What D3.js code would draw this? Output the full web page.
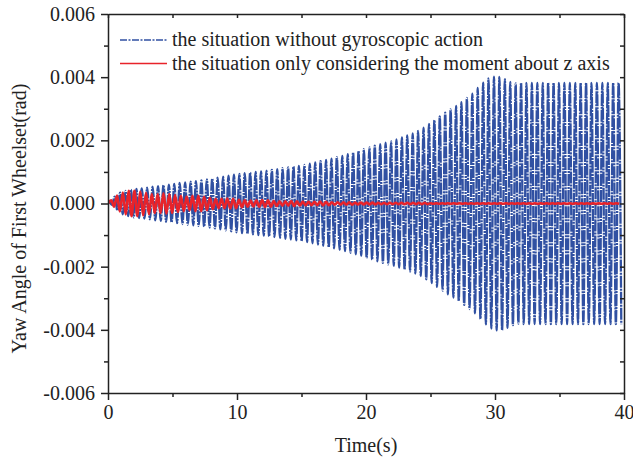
<!DOCTYPE html>
<html>
<head>
<meta charset="utf-8">
<script src="https://cdn.jsdelivr.net/npm/d3@7"></script>
<style>
  body { margin: 0; background: #fff; }
  text { font-family: "Liberation Serif", "Times New Roman", serif; fill: #222; }
</style>
</head>
<body>
<div id="chart"></div>
<script>
// peak amplitude of each oscillation cycle, in 0.001 rad
const blueStart = 0.1, bluePeriod = 0.42;
const blueAmp = [
  0.04, 0.22, 0.34, 0.40, 0.44, 0.46, 0.48, 0.50, 0.53, 0.55,
  0.58, 0.60, 0.62, 0.65, 0.67, 0.69, 0.71, 0.73, 0.76, 0.79,
  0.82, 0.85, 0.88, 0.91, 0.94, 0.96, 0.98, 1.00, 1.02, 1.04,
  1.06, 1.09, 1.12, 1.14, 1.17, 1.19, 1.22, 1.26, 1.30, 1.34,
  1.38, 1.42, 1.47, 1.51, 1.56, 1.61, 1.66, 1.72, 1.78, 1.83,
  1.88, 1.93, 1.97, 2.03, 2.09, 2.16, 2.22, 2.30, 2.40, 2.52,
  2.64, 2.76, 2.88, 2.98, 3.09, 3.21, 3.34, 3.48, 3.66, 3.83,
  3.96, 4.02, 4.01, 3.94, 3.85, 3.80, 3.82, 3.82, 3.82, 3.82,
  3.82, 3.82, 3.82, 3.82, 3.82, 3.82, 3.82, 3.82, 3.82, 3.82,
  3.82, 3.82, 3.82, 3.82, 3.82
];

const redStart = 0.25, redPeriod = 0.45;
const redAmp = [
  0.10, 0.25, 0.35, 0.40, 0.40, 0.38, 0.34, 0.30, 0.30, 0.32,
  0.30, 0.27, 0.24, 0.22, 0.24, 0.24, 0.21, 0.18, 0.15, 0.15,
  0.16, 0.15, 0.12, 0.10, 0.09, 0.10, 0.11, 0.10, 0.08, 0.07,
  0.07, 0.08, 0.07, 0.06, 0.05, 0.05, 0.06, 0.05, 0.04, 0.04,
  0.04, 0.04, 0.03, 0.03, 0.03, 0.03, 0.02, 0.02, 0.02, 0.02,
  0.02, 0.02, 0.02, 0.02, 0.02, 0.01, 0.01, 0.01, 0.01, 0.01,
  0.01, 0.01, 0.01, 0.01, 0.01, 0.01, 0.01, 0.01, 0.01, 0.01,
  0.01, 0.01, 0.01, 0.01, 0.01, 0.01, 0.01, 0.01, 0.01, 0.01,
  0.01, 0.01, 0.01, 0.01, 0.01, 0.01, 0.01, 0.01
];

const xMajor = [0, 10, 20, 30, 40];
const xMinor = [5, 15, 25, 35];
const yMajor = [-0.006, -0.004, -0.002, 0, 0.002, 0.004, 0.006];
const yMinor = [-0.005, -0.003, -0.001, 0.001, 0.003, 0.005];
const seriesNames = ["the situation without gyroscopic action",
                     "the situation only considering the moment about z axis"];

function peaks(start, period, amp) {
  let pts = [{ t: 0, v: 0 }];
  amp.forEach((a, i) => {
    let t = start + i * period;
    pts.push({ t: t, v: a / 1000 });
    pts.push({ t: t + period / 2, v: -a / 1000 });
  });
  return pts;
}

let width = 633, height = 460,
  margin = ({ top: 14, right: 9, bottom: 67, left: 108 });

let x = d3.scaleLinear().domain([0, 40]).range([margin.left, width - margin.right]);
let y = d3.scaleLinear().domain([-0.006, 0.006]).range([height - margin.bottom, margin.top]);

const svg = d3.select("#chart").append("svg")
  .attr("width", width).attr("height", height);

svg.append("clipPath").attr("id", "clip")
  .append("rect")
  .attr("x", x(0)).attr("y", y(0.006))
  .attr("width", x(40) - x(0)).attr("height", y(-0.006) - y(0.006));

let line = d3.line().x(d => x(d.t)).y(d => y(d.v)).curve(d3.curveMonotoneX);

const plot = svg.append("g").attr("clip-path", "url(#clip)");
plot.append("path")
  .datum(peaks(blueStart, bluePeriod, blueAmp))
  .attr("fill", "none").attr("stroke", "#3050a2")
  .attr("stroke-width", 2.3).attr("stroke-dasharray", "12,1,2,1")
  .attr("d", line);
plot.append("path")
  .datum(peaks(redStart, redPeriod, redAmp))
  .attr("fill", "none").attr("stroke", "#e8232a")
  .attr("stroke-width", 2.6)
  .attr("d", line);

function styleAxis(g) {
  g.selectAll("path, line").attr("stroke", "#222").attr("stroke-width", 1.5);
  g.selectAll("text").attr("font-size", 20).attr("font-family", "Liberation Serif").attr("fill", "#222");
}

// bottom
svg.append("g").attr("transform", `translate(0,${y(-0.006)})`)
  .call(d3.axisBottom(x).tickValues(xMajor).tickSize(7).tickPadding(5).tickSizeOuter(0))
  .call(styleAxis);
svg.append("g").attr("transform", `translate(0,${y(-0.006)})`)
  .call(d3.axisBottom(x).tickValues(xMinor).tickSize(4).tickFormat(""))
  .call(g => g.select(".domain").remove()).call(styleAxis);
// left
svg.append("g").attr("transform", `translate(${x(0)},0)`)
  .call(d3.axisLeft(y).tickValues(yMajor).tickSize(7).tickPadding(6).tickSizeOuter(0)
    .tickFormat(d => d.toFixed(3)))
  .call(styleAxis);
svg.append("g").attr("transform", `translate(${x(0)},0)`)
  .call(d3.axisLeft(y).tickValues(yMinor).tickSize(4).tickFormat(""))
  .call(g => g.select(".domain").remove()).call(styleAxis);
// top
svg.append("g").attr("transform", `translate(0,${y(0.006)})`)
  .call(d3.axisTop(x).tickValues(xMajor.concat(xMinor)).tickSize(-4).tickSizeOuter(0).tickFormat(""))
  .call(styleAxis);
// right
svg.append("g").attr("transform", `translate(${x(40)},0)`)
  .call(d3.axisRight(y).tickValues(yMajor.concat(yMinor)).tickSize(-4).tickSizeOuter(0).tickFormat(""))
  .call(styleAxis);

svg.append("text")
  .attr("x", (x(0) + x(40)) / 2).attr("y", 452)
  .attr("text-anchor", "middle").attr("font-size", 20)
  .text("Time(s)");

svg.append("text")
  .attr("transform", `translate(26,${(y(0.006) + y(-0.006)) / 2 + 15}) rotate(-90)`)
  .attr("text-anchor", "middle").attr("font-size", 20)
  .text("Yaw Angle of First Wheelset(rad)");

// legend
const legend = svg.append("g");
const legendStyle = [
  { color: "#3050a2", dash: "7,1.5,2,1.5", w: 1.5 },
  { color: "#e8232a", dash: null, w: 1.6 }
];
seriesNames.forEach((name, i) => {
  let ly = 40 + i * 23.5;
  legend.append("line")
    .attr("x1", 120).attr("x2", 167).attr("y1", ly).attr("y2", ly)
    .attr("stroke", legendStyle[i].color).attr("stroke-width", legendStyle[i].w)
    .attr("stroke-dasharray", legendStyle[i].dash);
  legend.append("text")
    .attr("x", 172).attr("y", ly + 6).attr("font-size", 20)
    .text(name);
});
</script>
</body>
</html>
